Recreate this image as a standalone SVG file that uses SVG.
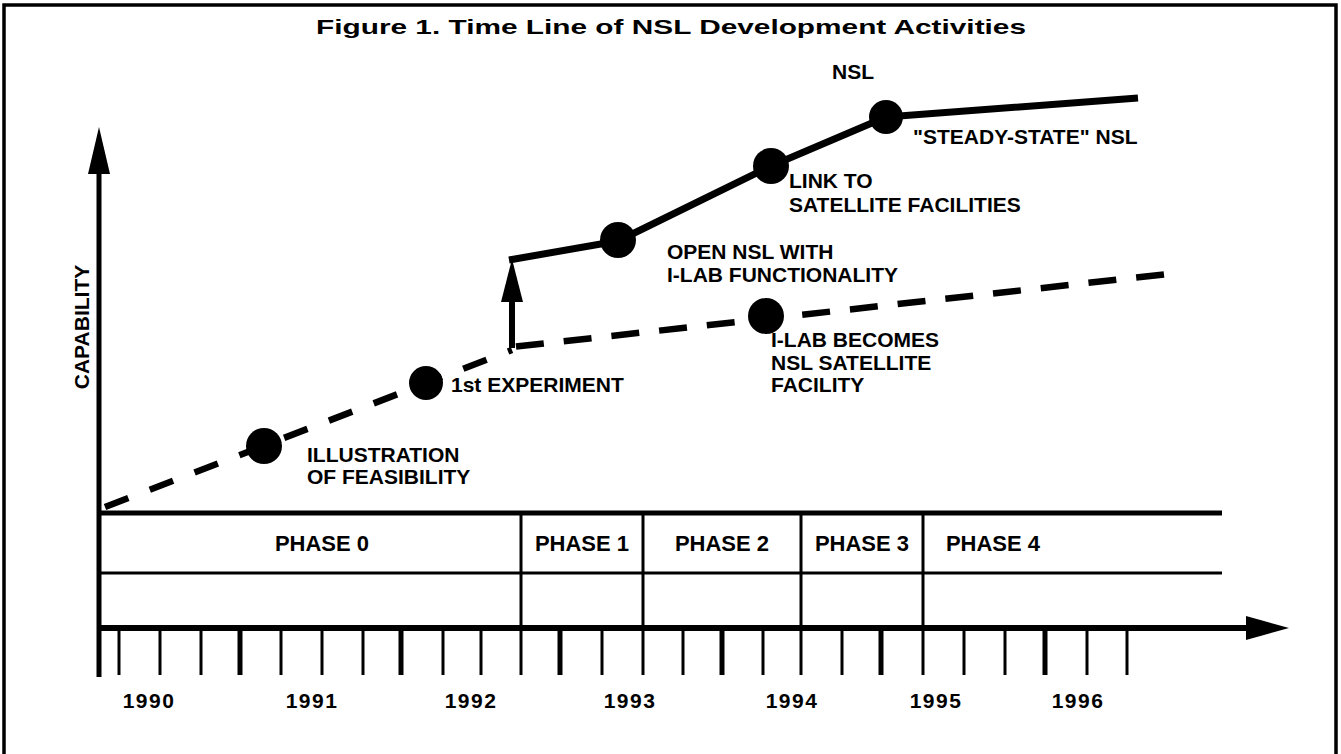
<svg xmlns="http://www.w3.org/2000/svg" width="1341" height="754" viewBox="0 0 1341 754">
<style>
text{font-family:"Liberation Sans",Arial,sans-serif;font-weight:bold;fill:#000;font-size:21px}
.yr{letter-spacing:1.5px;text-anchor:middle}
.ph{font-size:22px;text-anchor:middle}
.ln{fill:none;stroke:#000}
.tk{stroke:#000;stroke-width:3}
.tkb{stroke:#000;stroke-width:5}
.dot{fill:#000}
</style>
<rect width="1341" height="754" fill="#fff"/>
<g id="frame"><path class="ln" stroke-width="3.5" d="M4,760 V5 H1336 V760"/></g>
<g id="title"><text x="671" y="34" font-size="27" text-anchor="middle" textLength="710" lengthAdjust="spacingAndGlyphs">Figure 1.  Time Line of NSL Development Activities</text></g>
<g id="axes">
<path class="ln" stroke-width="5" d="M99,170 V677"/>
<polygon points="99,127 88,174 110,174"/>
<text transform="translate(89,327) rotate(-90)" text-anchor="middle" font-size="22">CAPABILITY</text>
<path class="ln" stroke-width="6" d="M97,628 H1250"/>
<polygon points="1289,628 1246,616 1246,640"/>
</g>
<g id="phase-table">
<path class="ln" stroke-width="5" d="M97,513 H1222"/>
<path class="ln" stroke-width="3" d="M99,573 H1222"/>
<path class="tk" d="M521,513 V675 M643,513 V675 M801,513 V675 M923,513 V675"/>
<text class="ph" x="322" y="551">PHASE 0</text>
<text class="ph" x="582" y="551">PHASE 1</text>
<text class="ph" x="722" y="551">PHASE 2</text>
<text class="ph" x="862" y="551">PHASE 3</text>
<text class="ph" x="993" y="551">PHASE 4</text>
</g>
<g id="ticks">
<path class="tk" d="M119,628V675M160,628V675M201,628V675M281,628V675M322,628V675M363,628V675M443,628V675M481,628V675M602,628V675M683,628V675M763,628V675M842,628V675M964,628V675M1005,628V675M1087,628V675M1127,628V675"/>
<path class="tkb" d="M240,628V675M401,628V675M560,628V675M722,628V675M881,628V675M1045,628V675"/>
<text class="yr" x="149" y="708">1990</text>
<text class="yr" x="312" y="708">1991</text>
<text class="yr" x="471" y="708">1992</text>
<text class="yr" x="630" y="708">1993</text>
<text class="yr" x="792" y="708">1994</text>
<text class="yr" x="936" y="708">1995</text>
<text class="yr" x="1078" y="708">1996</text>
</g>
<g id="connectors">
<path class="ln" stroke-width="6.5" stroke-dasharray="25 23" d="M105,507 L512,350"/>
<path class="ln" stroke-width="6.5" stroke-dasharray="28 20" stroke-dashoffset="-4" d="M512,347 L1168,274"/>
<path class="ln" stroke-width="6" d="M512,348 V298"/>
<polygon points="512,259 501,302 523,302"/>
<path class="ln" stroke-width="7" stroke-linejoin="round" d="M509,260 L618,241 L771,166 L886,117 L1138,98"/>
</g>
<g id="n-illustration">
<circle class="dot" cx="264" cy="446" r="18"/>
<text x="307" y="462">ILLUSTRATION</text>
<text x="307" y="484">OF FEASIBILITY</text>
</g>
<g id="n-experiment">
<circle class="dot" cx="426" cy="383" r="17"/>
<text x="451" y="392">1st EXPERIMENT</text>
</g>
<g id="n-open">
<circle class="dot" cx="618" cy="240" r="18"/>
<text x="667" y="259">OPEN NSL WITH</text>
<text x="667" y="282">I-LAB FUNCTIONALITY</text>
</g>
<g id="n-link">
<circle class="dot" cx="771" cy="166" r="18"/>
<text x="789" y="188">LINK TO</text>
<text x="789" y="212">SATELLITE FACILITIES</text>
</g>
<g id="n-steady">
<circle class="dot" cx="886" cy="117" r="17"/>
<text x="853" y="79" text-anchor="middle">NSL</text>
<text x="913" y="144">"STEADY-STATE" NSL</text>
</g>
<g id="n-ilab">
<circle class="dot" cx="766" cy="316" r="18"/>
<text x="771" y="347">I-LAB BECOMES</text>
<text x="771" y="370">NSL SATELLITE</text>
<text x="771" y="392">FACILITY</text>
</g>
</svg>
